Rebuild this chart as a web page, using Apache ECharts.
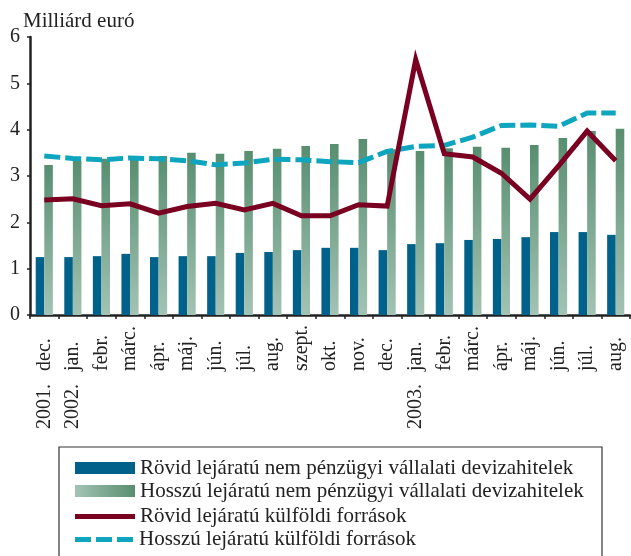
<!DOCTYPE html>
<html>
<head>
<meta charset="utf-8">
<script src="https://cdn.jsdelivr.net/npm/echarts@6/dist/echarts.min.js"></script>
<style>
  html, body { margin: 0; padding: 0; background: #fff; }
  #chart { width: 631px; height: 556px; }
</style>
</head>
<body>
<div id="chart"></div>
<script>
// hónapok és évek a vízszintes tengelyhez
const months = ['dec.', 'jan.', 'febr.', 'márc.', 'ápr.', 'máj.', 'jún.', 'júl.', 'aug.', 'szept.', 'okt.', 'nov.',
  'dec.', 'jan.', 'febr.', 'márc.', 'ápr.', 'máj.', 'jún.', 'júl.', 'aug.'];
const years = ['2001.', '2002.', '', '', '', '', '', '', '', '', '', '',
  '', '2003.', '', '', '', '', '', '', ''];

const seriesNames = [
  'Rövid lejáratú nem pénzügyi vállalati devizahitelek',
  'Hosszú lejáratú nem pénzügyi vállalati devizahitelek',
  'Rövid lejáratú külföldi források',
  'Hosszú lejáratú külföldi források'
];

// milliárd euró
const shortLoans = [1.25, 1.25, 1.27, 1.32, 1.25, 1.27, 1.27, 1.34, 1.36, 1.40, 1.45, 1.45,
  1.40, 1.53, 1.55, 1.62, 1.64, 1.68, 1.79, 1.79, 1.73];
const longLoans = [3.24, 3.33, 3.37, 3.38, 3.43, 3.50, 3.48, 3.54, 3.59, 3.65, 3.69, 3.80,
  3.58, 3.54, 3.60, 3.63, 3.61, 3.67, 3.82, 3.97, 4.02];
const shortForeign = [2.48, 2.51, 2.36, 2.40, 2.20, 2.34, 2.41, 2.27, 2.41, 2.14, 2.14, 2.38,
  2.35, 5.51, 3.48, 3.41, 3.06, 2.50, 3.22, 3.97, 3.33];
const longForeign = [3.43, 3.38, 3.35, 3.39, 3.37, 3.33, 3.24, 3.28, 3.36, 3.35, 3.31, 3.29,
  3.53, 3.64, 3.66, 3.84, 4.09, 4.10, 4.07, 4.36, 4.36];

const FONT = 'Liberation Serif';
const INK = '#222';
const C_SHORT = '#00628a';
const C_RED = '#7a0022';
const C_CYAN = '#0ea5bf';

const barGradient = new echarts.graphic.LinearGradient(0, 0, 0, 1, [
  { offset: 0, color: '#588e70' },
  { offset: 1, color: '#a3c3b4' }
]);
const legendGradient = new echarts.graphic.LinearGradient(0, 0, 1, 0, [
  { offset: 0, color: '#a3c3b4' },
  { offset: 1, color: '#588e70' }
]);

// jelmagyarázat sorai (ikon, magasság)
const legendRows = [468, 491, 516.5, 539.5];
const legendIcons = [
  { icon: 'rect', h: 12, itemStyle: { color: C_SHORT } },
  { icon: 'rect', h: 12, itemStyle: { color: legendGradient } },
  { icon: 'rect', h: 5, itemStyle: { color: C_RED } },
  { icon: 'path://M0,0h16v5h-16zM21,0h16v5h-16zM42,0h16v5h-16z', h: 5, itemStyle: { color: C_CYAN } }
];

const option = {
  animation: false,
  backgroundColor: '#fff',
  textStyle: { fontFamily: FONT, color: INK },
  title: {
    text: 'Milliárd euró',
    left: 18, top: 6,
    textStyle: { fontFamily: FONT, fontSize: 21, fontWeight: 'normal', color: INK }
  },
  grid: { left: 30, right: 1, top: 37, bottom: 241, containLabel: false },
  legend: seriesNames.map((name, i) => ({
    data: [{ name: name, icon: legendIcons[i].icon, itemStyle: legendIcons[i].itemStyle }],
    left: 75,
    top: legendRows[i] - 10.5,
    padding: 0,
    itemWidth: 60,
    itemHeight: legendIcons[i].h,
    selectedMode: false,
    textStyle: { fontFamily: FONT, fontSize: 21, color: INK, lineHeight: 21 }
  })),
  graphic: [{
    type: 'rect',
    shape: { x: 59, y: 447, width: 543, height: 130 },
    style: { fill: 'none', stroke: '#333', lineWidth: 1.2 },
    silent: true
  }],
  xAxis: [{
    type: 'category',
    data: months,
    axisLine: { lineStyle: { color: INK, width: 2.5 } },
    axisTick: { show: true, length: 4, lineStyle: { color: INK, width: 1.5 } },
    axisLabel: {
      interval: 0,
      rotate: 90,
      align: 'left',
      margin: 56,
      fontFamily: FONT, fontSize: 20, color: INK
    },
    splitLine: { show: false }
  }, {
    // évszámok külön sorban
    type: 'category',
    position: 'bottom',
    data: years,
    axisLine: { show: false },
    axisTick: { show: false },
    axisLabel: {
      interval: 0,
      rotate: 90,
      margin: 69,
      fontFamily: FONT, fontSize: 20, color: INK
    },
    splitLine: { show: false }
  }],
  yAxis: {
    type: 'value',
    min: 0, max: 6, interval: 1,
    axisLine: { show: true, lineStyle: { color: INK, width: 2.5 } },
    axisTick: { show: true, length: 3, lineStyle: { color: INK, width: 1.5 } },
    axisLabel: { fontFamily: FONT, fontSize: 20, color: INK, margin: 10, padding: [3, 0, 0, 0] },
    splitLine: { show: false }
  },
  series: [
    {
      name: seriesNames[0], type: 'bar', data: shortLoans,
      barGap: '0%', barCategoryGap: '40%',
      itemStyle: { color: C_SHORT }
    },
    {
      name: seriesNames[1], type: 'bar', data: longLoans,
      barGap: '0%', barCategoryGap: '40%',
      itemStyle: { color: barGradient }
    },
    {
      name: seriesNames[2], type: 'line', data: shortForeign,
      symbol: 'none', z: 4,
      lineStyle: { color: C_RED, width: 5, join: 'miter' },
      itemStyle: { color: C_RED }
    },
    {
      name: seriesNames[3], type: 'line', data: longForeign,
      symbol: 'none', z: 3,
      lineStyle: { color: C_CYAN, width: 5, type: [16, 5] },
      itemStyle: { color: C_CYAN }
    }
  ]
};

const myChart = echarts.init(document.getElementById('chart'));
myChart.setOption(option);
</script>
</body>
</html>
